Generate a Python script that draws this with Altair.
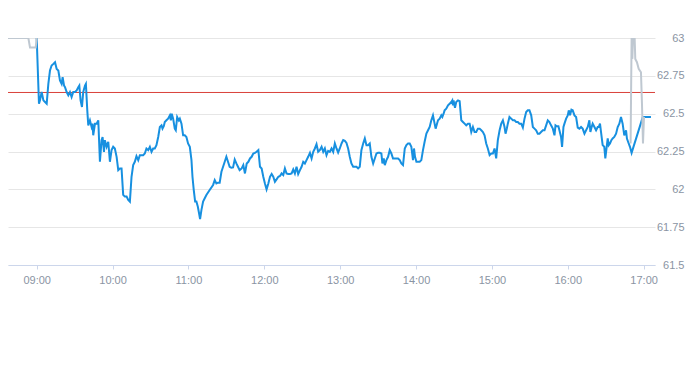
import altair as alt
import pandas as pd

BASE = "2024-01-15 09:00"

# minutes after 09:00 and price
morning_min = [
    0.0, 1.8, 2.6, 3.9, 5.3, 6.6, 7.9, 9.2, 10.5, 11.8,
    13.2, 14.5, 15.8, 17.1, 18.4, 19.7, 20.5, 21.6, 22.4, 23.7,
    25.0, 26.3, 27.6, 28.9, 30.3, 31.6, 32.9, 33.7, 34.7, 35.8,
    36.8, 38.2, 38.9, 40.0, 40.8, 42.1, 43.4, 44.2, 44.7, 46.1,
    47.4, 48.7, 50.0, 51.3, 52.1, 53.2, 53.9, 55.3, 56.6, 57.9,
    59.2, 60.5, 61.8, 63.2, 64.5, 65.8, 67.1, 68.4, 69.7, 71.1,
    72.4, 73.7, 75.0, 76.3, 77.6, 78.9, 80.3, 81.6, 82.9, 84.2,
    85.5, 86.8, 88.2, 89.5, 90.8, 92.1, 93.4, 94.7, 96.1, 97.4,
    98.7, 99.5, 100.5, 101.3, 102.6, 103.9, 105.3, 106.1, 106.8, 107.9,
    109.2, 110.0, 111.1, 112.4, 113.2, 114.5, 115.8, 117.1, 118.4, 119.7,
    121.1, 122.4, 123.2, 124.2, 125.3, 126.3, 127.4, 128.4, 129.2, 130.3,
    131.6, 132.9, 134.2, 136.8, 139.5, 140.8, 142.1, 143.4, 144.7, 146.1,
    147.4, 148.7, 150.0, 151.3, 152.6, 153.9, 155.3, 156.6, 157.9, 159.2,
    160.5,
]
morning_val = [
    63.0, 62.566, 62.588, 62.643, 62.588, 62.577, 62.566, 62.697, 62.785, 62.818,
    62.829, 62.840, 62.796, 62.785, 62.719, 62.697, 62.741, 62.686, 62.675, 62.643,
    62.621, 62.643, 62.610, 62.643, 62.643, 62.654, 62.675, 62.686, 62.588, 62.544,
    62.643, 62.686, 62.697, 62.522, 62.423, 62.456, 62.412, 62.434, 62.357, 62.434,
    62.434, 62.456, 62.182, 62.325, 62.346, 62.248, 62.325, 62.281, 62.314, 62.182,
    62.259, 62.281, 62.270, 62.215, 62.127, 62.138, 62.138, 61.963, 61.952, 61.952,
    61.930, 61.919, 62.083, 62.160, 62.182, 62.219, 62.193, 62.226, 62.226, 62.226,
    62.237, 62.270, 62.259, 62.281, 62.248, 62.270, 62.270, 62.292, 62.346, 62.412,
    62.423, 62.401, 62.417, 62.445, 62.456, 62.467, 62.489, 62.456, 62.500, 62.467,
    62.401, 62.390, 62.478, 62.456, 62.467, 62.434, 62.357, 62.357, 62.346, 62.303,
    62.281, 62.193, 62.083, 61.996, 61.919, 61.919, 61.886, 61.842, 61.803, 61.864,
    61.919, 61.941, 61.963, 61.996, 62.029, 62.061, 62.039, 62.044, 62.044, 62.116,
    62.149, 62.182, 62.215, 62.182, 62.149, 62.143, 62.145, 62.197, 62.171, 62.149,
    62.127,
]

midday_min = [
    162.1, 163.4, 164.7, 166.1, 167.4, 168.7, 170.0, 171.3, 172.6, 173.9,
    175.3, 176.6, 177.9, 179.2, 180.5, 181.8, 183.2, 184.5, 185.8, 187.1,
    188.4, 189.7, 191.1, 192.4, 193.7, 195.0, 196.3, 197.6, 198.9, 200.3,
    201.6, 202.9, 204.2, 205.5, 206.8, 208.2, 209.5, 210.8, 212.1, 213.4,
    214.7, 216.1, 217.4, 218.7, 220.0, 221.3, 222.6, 223.9, 225.3, 226.6,
    227.9, 229.2, 230.5, 231.8, 233.2, 234.5, 235.8, 237.1, 238.4, 239.7,
    241.1, 242.4, 243.7, 245.0, 246.3, 247.6, 248.9, 250.3, 251.6, 252.9,
    254.2, 255.5, 256.8, 258.2, 259.5, 260.8, 262.1, 263.4, 264.7, 266.1,
    267.4, 268.7, 270.0, 271.3, 272.6, 273.4, 274.5, 275.3, 276.6, 277.9,
    279.2, 280.5, 281.8, 283.2, 284.5, 285.8, 287.1, 288.4, 289.7, 291.1,
    292.4, 293.7, 295.0, 296.3, 297.6, 298.4, 299.2, 300.3, 301.6, 302.9,
    304.2, 305.5, 306.8, 308.2, 309.5, 310.8, 312.1, 313.4, 314.7, 315.5,
    316.6, 317.4, 318.7, 320.0, 320.8, 321.8, 322.6, 323.9, 325.3, 326.6,
    327.9, 328.7, 329.2, 329.7, 330.8, 331.8, 333.2, 334.5, 335.8, 337.1,
    338.4, 339.7, 341.1, 342.4,
]
midday_val = [
    62.138, 62.160, 62.105, 62.171, 62.182, 62.204, 62.215, 62.237, 62.241, 62.248,
    62.259, 62.149, 62.138, 62.083, 62.039, 62.000, 62.039, 62.083, 62.101, 62.083,
    62.050, 62.066, 62.083, 62.088, 62.105, 62.094, 62.138, 62.105, 62.101, 62.101,
    62.105, 62.132, 62.105, 62.149, 62.101, 62.127, 62.149, 62.182, 62.171, 62.193,
    62.215, 62.241, 62.204, 62.248, 62.270, 62.298, 62.248, 62.259, 62.281, 62.248,
    62.270, 62.226, 62.254, 62.248, 62.270, 62.248, 62.303, 62.270, 62.243, 62.270,
    62.303, 62.325, 62.320, 62.307, 62.270, 62.215, 62.171, 62.149, 62.149, 62.149,
    62.138, 62.149, 62.259, 62.303, 62.336, 62.292, 62.292, 62.303, 62.215, 62.171,
    62.204, 62.237, 62.241, 62.241, 62.237, 62.171, 62.204, 62.160, 62.193, 62.215,
    62.259, 62.237, 62.204, 62.204, 62.204, 62.204, 62.193, 62.171, 62.160, 62.270,
    62.292, 62.303, 62.303, 62.281, 62.193, 62.270, 62.215, 62.182, 62.182, 62.182,
    62.193, 62.259, 62.314, 62.368, 62.390, 62.412, 62.456, 62.489, 62.434, 62.401,
    62.434, 62.456, 62.467, 62.489, 62.478, 62.500, 62.522, 62.533, 62.555, 62.566,
    62.577, 62.588, 62.555, 62.588, 62.539, 62.577, 62.588, 62.583, 62.456, 62.445,
    62.434, 62.423, 62.434, 62.434,
]

afternoon_min = [
    343.7, 345.0, 346.3, 347.6, 348.9, 350.3, 351.6, 352.9, 354.2, 355.5,
    356.8, 358.2, 359.5, 360.8, 362.1, 363.4, 364.7, 366.1, 367.4, 368.7,
    370.0, 370.8, 371.8, 372.6, 373.9, 375.3, 376.6, 377.9, 379.2, 380.5,
    381.8, 383.2, 384.5, 385.8, 387.1, 388.4, 389.7, 391.1, 392.4, 393.7,
    395.0, 396.3, 397.6, 398.9, 400.3, 401.6, 402.9, 404.2, 405.5, 406.8,
    408.2, 409.5, 410.3, 411.3, 412.6, 413.4, 414.7, 415.5, 416.6, 417.4,
    418.7, 420.0, 420.8, 421.8, 422.9, 423.9, 425.3, 426.6, 427.9, 429.2,
    430.5, 431.8, 433.2, 434.5, 435.8, 437.1, 437.9, 438.9, 439.7, 441.1,
    442.4, 443.7, 444.5, 445.5, 446.3, 447.6, 448.9, 449.7, 450.8, 451.6,
    452.4, 453.4, 454.5, 455.5, 456.8, 458.2, 459.5, 460.8, 462.1, 463.4,
    464.7, 466.1, 466.8, 468.2, 469.2, 470.5, 479.2, 480.5, 485.8,
]
afternoon_val = [
    62.379, 62.412, 62.379, 62.379, 62.401, 62.401, 62.390, 62.379, 62.357, 62.303,
    62.270, 62.226, 62.237, 62.237, 62.270, 62.204, 62.325, 62.390, 62.434, 62.456,
    62.412, 62.368, 62.401, 62.434, 62.478, 62.467, 62.456, 62.456, 62.445, 62.445,
    62.434, 62.434, 62.408, 62.467, 62.511, 62.522, 62.522, 62.489, 62.412, 62.401,
    62.390, 62.368, 62.368, 62.379, 62.390, 62.390, 62.423, 62.456, 62.445, 62.423,
    62.401, 62.357, 62.423, 62.417, 62.417, 62.390, 62.346, 62.281, 62.412, 62.434,
    62.467, 62.489, 62.522, 62.489, 62.526, 62.522, 62.489, 62.478, 62.408, 62.401,
    62.412, 62.401, 62.368, 62.390, 62.412, 62.456, 62.379, 62.412, 62.434, 62.412,
    62.390, 62.412, 62.412, 62.434, 62.379, 62.292, 62.281, 62.204, 62.281, 62.336,
    62.292, 62.303, 62.325, 62.336, 62.346, 62.368, 62.412, 62.434, 62.478, 62.434,
    62.357, 62.390, 62.336, 62.303, 62.281, 62.241, 62.474, 62.478, 62.478,
]

pre_min = [-29.0, -6.6, -5.3, -0.8, 0.0]
pre_val = [63.0, 63.0, 62.937, 62.937, 63.0]

post_min = [469.7, 470.5, 471.1, 471.6, 472.9, 473.4, 474.7, 476.1, 477.9, 478.7, 479.5, 480.3]
post_val = [62.303, 63.0, 62.862, 63.0, 63.0, 62.862, 62.840, 62.796, 62.774, 62.566, 62.303, 62.478]

reference_price = [62.64]
y_ticks = [61.5, 61.75, 62.0, 62.25, 62.5, 62.75, 63.0]
x_tick_hours = [9, 10, 11, 12, 13, 14, 15, 16, 17]


def frame(mins, vals, seg):
    ts = pd.Timestamp(BASE) + pd.to_timedelta(mins, unit="min")
    return pd.DataFrame({"time": ts, "price": vals, "seg": seg})


blue_df = frame(morning_min + midday_min + afternoon_min,
                morning_val + midday_val + afternoon_val, "main")
gray_df = pd.concat([frame(pre_min, pre_val, "pre"), frame(post_min, post_val, "post")])

x_scale = alt.Scale(domain=[
    alt.DateTime(year=2024, month=1, date=15, hours=8, minutes=37, seconds=18),
    alt.DateTime(year=2024, month=1, date=15, hours=17, minutes=9),
])
y_scale = alt.Scale(domain=[61.5, 63.0], nice=False, zero=False)

x_axis = alt.Axis(
    values=[alt.DateTime(year=2024, month=1, date=15, hours=h) for h in x_tick_hours],
    format="%H:%M", title=None, grid=False, domain=True,
    domainColor="#ccd6eb", tickColor="#ccd6eb", tickSize=4, labelPadding=5,
    labelColor="#8a94a3", labelFontSize=11, labelFont="Liberation Sans",
)
y_axis = alt.Axis(
    values=y_ticks, format=".2~f", orient="right", title=None, grid=True,
    gridColor="#e6e6e6", domain=False, ticks=False, labelAlign="right",
    labelPadding=29, labelColor="#8a94a3", labelFontSize=11,
    labelFont="Liberation Sans",
)

rule = alt.Chart(pd.DataFrame({"ref": reference_price})).mark_rule(
    color="#d9413a", strokeWidth=1
).encode(y=alt.Y("ref:Q", scale=y_scale, axis=y_axis))

blue = alt.Chart(blue_df).mark_line(color="#1790e0", strokeWidth=2, clip=True).encode(
    x=alt.X("time:T", scale=x_scale, axis=x_axis),
    y=alt.Y("price:Q", scale=y_scale, axis=y_axis),
)

gray = alt.Chart(gray_df).mark_line(color="#bfc8d1", strokeWidth=2, clip=True).encode(
    x=alt.X("time:T", scale=x_scale, axis=x_axis),
    y=alt.Y("price:Q", scale=y_scale, axis=y_axis),
    detail="seg:N",
)

chart = alt.layer(rule, blue, gray).properties(
    width=647, height=227,
    autosize=alt.AutoSizeParams(type="none"),
    padding={"left": 0, "top": 30, "right": 30, "bottom": 40},
).configure_view(stroke=None)

chart.save("out.html", embed_options={"renderer": "svg", "actions": False})
